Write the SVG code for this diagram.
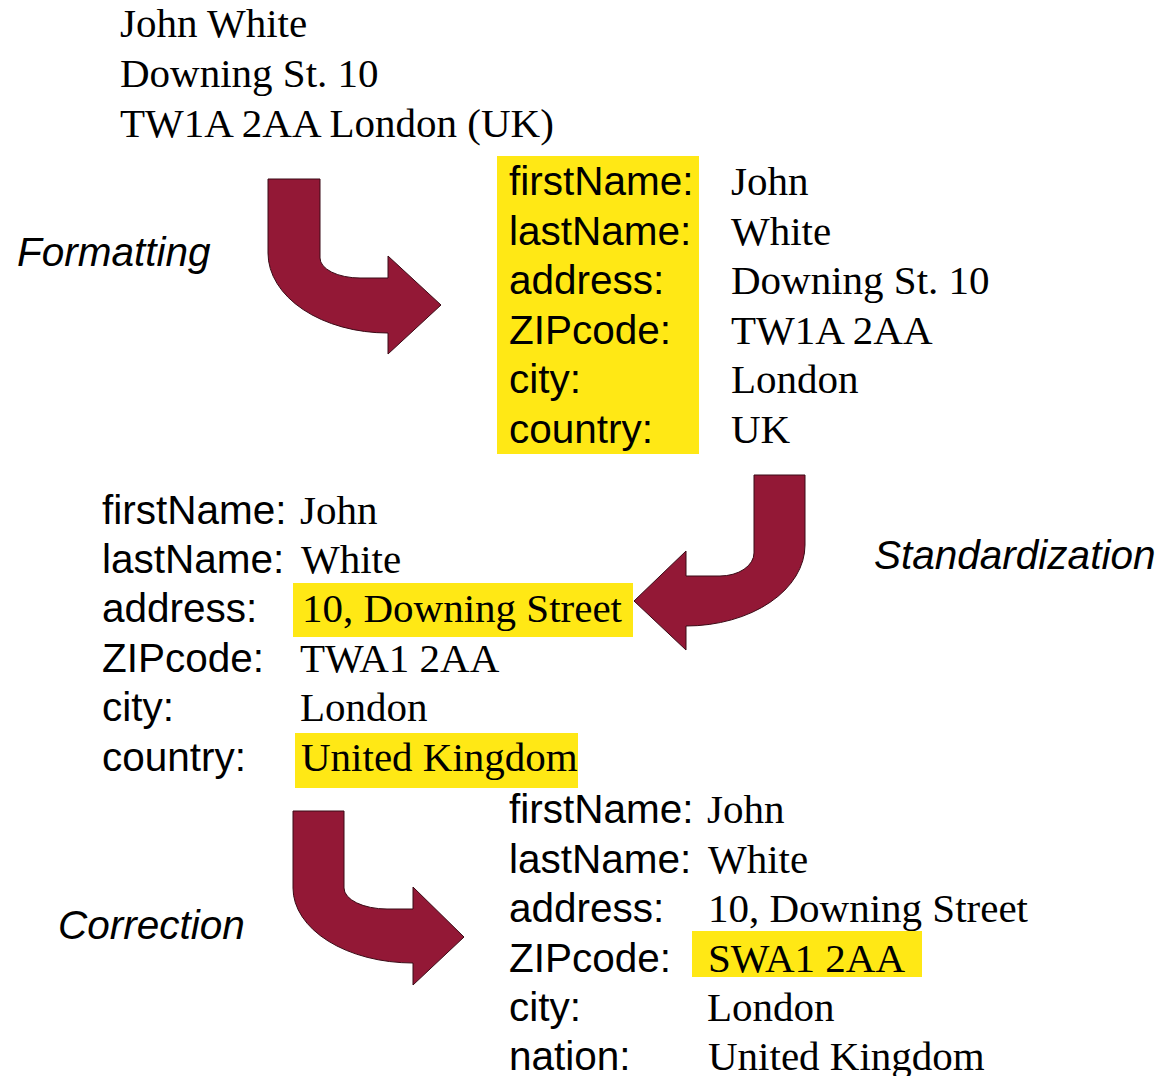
<svg xmlns="http://www.w3.org/2000/svg" width="1160" height="1076" viewBox="0 0 1160 1076">
  <style>
    .serif { font-family: "Liberation Serif", "Times New Roman", serif; font-size: 41px; fill: #000; }
    .sans { font-family: "Liberation Sans", Arial, sans-serif; font-size: 40.5px; fill: #000; }
    .step { font-family: "Liberation Sans", Arial, sans-serif; font-size: 40.5px; font-style: italic; fill: #000; }
    .hl { fill: #FFE815; }
    .arrow { fill: #931836; stroke: #3a0a16; stroke-width: 1; }
  </style>
  <rect width="1160" height="1076" fill="#fff"/>

  <!-- raw address record -->
  <g id="raw-record">
    <text class="serif" x="120" y="37">John White</text>
    <text class="serif" x="120" y="87">Downing St. 10</text>
    <text class="serif" x="120" y="137">TW1A 2AA London (UK)</text>
  </g>

  <!-- formatted record -->
  <g id="formatted-record">
    <rect class="hl" x="497" y="156" width="202" height="298"/>
    <text class="sans" x="509" y="195">firstName:</text>
    <text class="sans" x="509" y="244.6">lastName:</text>
    <text class="sans" x="509" y="294.2">address:</text>
    <text class="sans" x="509" y="343.8">ZIPcode:</text>
    <text class="sans" x="509" y="393.4">city:</text>
    <text class="sans" x="509" y="443">country:</text>
    <text class="serif" x="731" y="195">John</text>
    <text class="serif" x="731" y="244.6">White</text>
    <text class="serif" x="731" y="294.2">Downing St. 10</text>
    <text class="serif" x="731" y="343.8">TW1A 2AA</text>
    <text class="serif" x="731" y="393.4">London</text>
    <text class="serif" x="731" y="443">UK</text>
  </g>

  <!-- standardized record -->
  <g id="standardized-record">
    <rect class="hl" x="293" y="583" width="340" height="54"/>
    <rect class="hl" x="295" y="733" width="283" height="55"/>
    <text class="sans" x="102" y="523.5">firstName:</text>
    <text class="sans" x="102" y="573">lastName:</text>
    <text class="sans" x="102" y="622.3">address:</text>
    <text class="sans" x="102" y="671.7">ZIPcode:</text>
    <text class="sans" x="102" y="721">city:</text>
    <text class="sans" x="102" y="770.5">country:</text>
    <text class="serif" x="300" y="523.5">John</text>
    <text class="serif" x="301" y="573">White</text>
    <text class="serif" x="302" y="622.3">10, Downing Street</text>
    <text class="serif" x="300" y="671.7">TWA1 2AA</text>
    <text class="serif" x="300" y="721">London</text>
    <text class="serif" x="301" y="770.5">United Kingdom</text>
  </g>

  <!-- corrected record -->
  <g id="corrected-record">
    <rect class="hl" x="692" y="931" width="230" height="46"/>
    <text class="sans" x="509" y="823.3">firstName:</text>
    <text class="sans" x="509" y="872.7">lastName:</text>
    <text class="sans" x="509" y="922.1">address:</text>
    <text class="sans" x="509" y="971.5">ZIPcode:</text>
    <text class="sans" x="509" y="1020.9">city:</text>
    <text class="sans" x="509" y="1070.3">nation:</text>
    <text class="serif" x="707" y="823.3">John</text>
    <text class="serif" x="708" y="872.7">White</text>
    <text class="serif" x="708" y="922.1">10, Downing Street</text>
    <text class="serif" x="708" y="971.5">SWA1 2AA</text>
    <text class="serif" x="707" y="1020.9">London</text>
    <text class="serif" x="708" y="1070.3">United Kingdom</text>
  </g>

  <!-- step labels -->
  <g id="label-formatting"><text class="step" x="17" y="266">Formatting</text></g>
  <g id="label-standardization"><text class="step" x="874" y="569">Standardization</text></g>
  <g id="label-correction"><text class="step" x="58" y="939">Correction</text></g>

  <!-- bent block arrows between the stages -->
  <g id="connectors">
    <path class="arrow" d="M268,179 L320,179 L320,258 A40,20 0 0 0 360,278 L388,278 L388,256 L441,305 L388,354 L388,333 A120,80 0 0 1 268,253 Z"/>
    <path class="arrow" d="M754,475 L805,475 L805,545 A119,81 0 0 1 686,626 L686,650 L634,601 L686,551 L686,576 L720,576 A34,23 0 0 0 754,553 Z"/>
    <path class="arrow" d="M293,811 L344,811 L344,888 A43,21 0 0 0 387,909 L413,909 L413,887 L464,937 L413,985 L413,963 A120,75 0 0 1 293,888 Z"/>
  </g>
</svg>
